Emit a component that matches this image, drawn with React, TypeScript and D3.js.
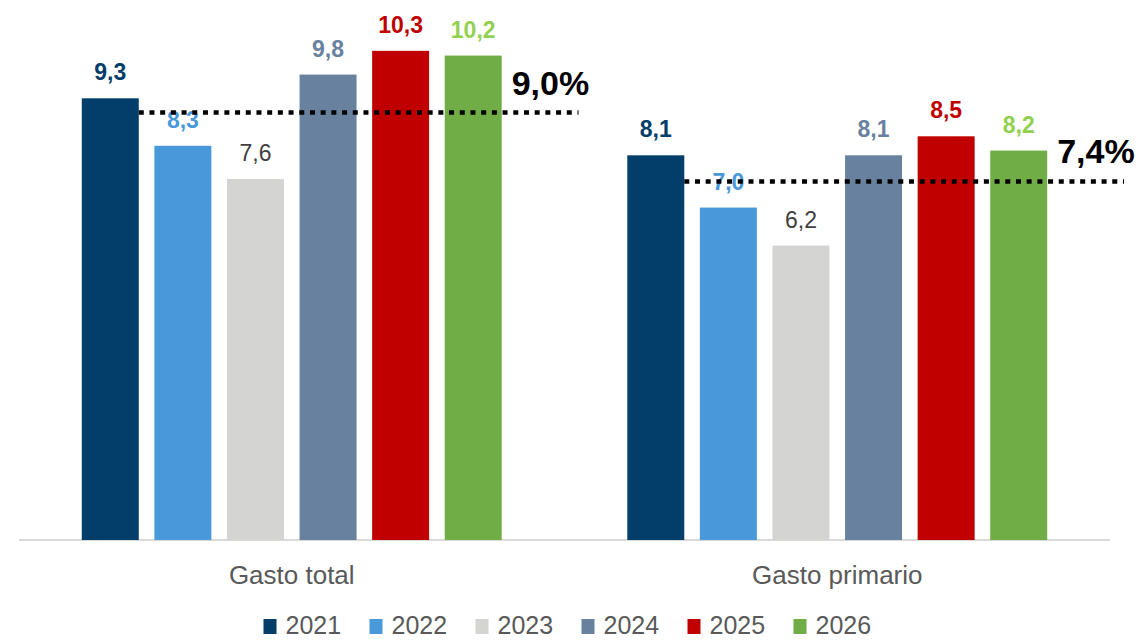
import React, { useEffect, useRef } from "react";
import * as d3 from "d3";

const categories = ["Gasto total", "Gasto primario"];
const years = ["2021", "2022", "2023", "2024", "2025", "2026"];
const gastoTotal = [9.3, 8.3, 7.6, 9.8, 10.3, 10.2];
const gastoPrimario = [8.1, 7.0, 6.2, 8.1, 8.5, 8.2];
const avgLabels = ["9,0%", "7,4%"];
const avgValues = [9.0, 7.55];

const barColors = ["#023e69", "#4998d9", "#d4d4d2", "#68819e", "#c00000", "#70ad47"];
const labelColors = ["#023e69", "#4998d9", "#404040", "#68819e", "#c00000", "#92d050"];
const labelBold = [true, true, false, true, true, true];

const App = () => {
    const ref = useRef<SVGSVGElement>(null);

    useEffect(() => {
        document.body.style.margin = "0";
        const width = 1137;
        const height = 640;
        const svg = d3.select(ref.current);
        svg.selectAll("*").remove();

        const font = "'Liberation Sans', Arial, sans-serif";
        const values = [gastoTotal, gastoPrimario];

        // group scale and year scale inside each group
        const x0 = d3.scaleBand().domain(categories).range([19, 1110]).padding(0);
        const x1 = d3.scaleBand().domain(years).range([0, x0.bandwidth()])
            .paddingInner(0.215).paddingOuter(0.865);
        const y = d3.scaleLinear().domain([0, 11.37]).range([540, 0]);

        // axis line
        svg.append("line")
            .attr("x1", 19).attr("x2", 1110)
            .attr("y1", y(0)).attr("y2", y(0))
            .attr("stroke", "#d9d9d9").attr("stroke-width", 2);

        const groups = svg.selectAll(".grp")
            .data(categories)
            .enter().append("g")
            .attr("class", "grp")
            .attr("transform", d => `translate(${x0(d)},0)`);

        groups.each(function (cat, ci) {
            const g = d3.select(this);
            const rows = years.map((yr, i) => ({ yr, i, v: values[ci][i] }));

            g.selectAll("rect")
                .data(rows)
                .enter().append("rect")
                .attr("x", d => x1(d.yr)!)
                .attr("y", d => y(d.v))
                .attr("width", x1.bandwidth())
                .attr("height", d => y(0) - y(d.v))
                .attr("fill", d => barColors[d.i]);

            g.selectAll(".val")
                .data(rows)
                .enter().append("text")
                .attr("class", "val")
                .attr("x", d => x1(d.yr)! + x1.bandwidth() / 2)
                .attr("y", d => y(d.v) - 18)
                .attr("text-anchor", "middle")
                .attr("font-family", font)
                .attr("font-size", 23)
                .attr("font-weight", d => labelBold[d.i] ? "bold" : "normal")
                .attr("fill", d => labelColors[d.i])
                .text(d => d.v.toFixed(1).replace(".", ","));

            // dotted average line
            const lx1 = x1(years[0])! + x1.bandwidth();
            const lx2 = x0.bandwidth() + 14;
            g.append("line")
                .attr("x1", lx1).attr("x2", lx2)
                .attr("y1", y(avgValues[ci])).attr("y2", y(avgValues[ci]))
                .attr("stroke", "#000").attr("stroke-width", 4.5)
                .attr("stroke-dasharray", "5 5.7");

            g.append("text")
                .attr("x", x1(years[5])! + x1.bandwidth() + 10)
                .attr("y", y(avgValues[ci]) - 18)
                .attr("font-family", font)
                .attr("font-size", 34)
                .attr("font-weight", "bold")
                .attr("fill", "#000")
                .text(avgLabels[ci]);

            g.append("text")
                .attr("x", x0.bandwidth() / 2)
                .attr("y", 584)
                .attr("text-anchor", "middle")
                .attr("font-family", font)
                .attr("font-size", 26)
                .attr("fill", "#595959")
                .text(cat);
        });

        // legend
        const step = 106;
        const legendX = width / 2 - (step * years.length - 26) / 2;
        const legend = svg.append("g").attr("transform", `translate(${legendX},0)`);
        const items = legend.selectAll("g")
            .data(years)
            .enter().append("g")
            .attr("transform", (d, i) => `translate(${i * step},0)`);
        items.append("rect")
            .attr("x", 0).attr("y", 619)
            .attr("width", 13).attr("height", 15)
            .attr("fill", (d, i) => barColors[i]);
        items.append("text")
            .attr("x", 22).attr("y", 634)
            .attr("font-family", font)
            .attr("font-size", 25)
            .attr("fill", "#595959")
            .text(d => d);

        svg.attr("width", width).attr("height", height);
    });

    return <svg ref={ref} style={{ display: "block" }} />;
};

export default App;
